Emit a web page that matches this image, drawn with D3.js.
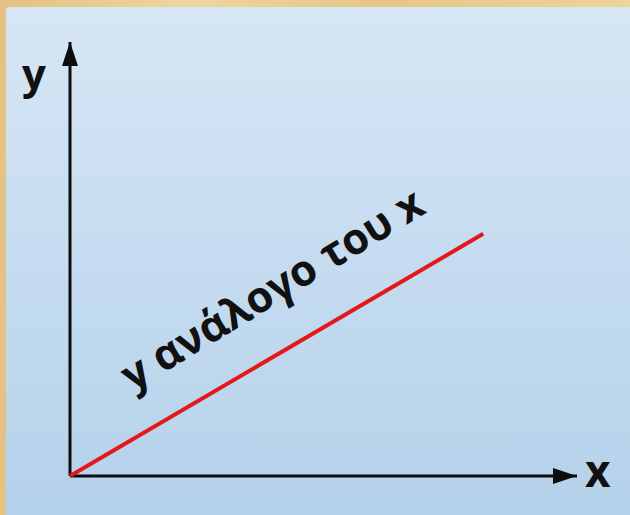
<!DOCTYPE html>
<html>
<head>
<meta charset="utf-8">
<title>y ανάλογο του x</title>
<script src="https://d3js.org/d3.v7.min.js"></script>
<style>
  html, body { margin: 0; padding: 0; background: #e6c88c; }
  svg { display: block; }
</style>
</head>
<body>
<svg id="chart" width="630" height="515"></svg>
<script>
// axis extents (data units) and the proportional line
var axisX = [0, 10];
var axisY = [0, 10];
var lineX = [0, 8.15];
var lineY = [0, 5.58];
var labelText = "y ανάλογο του x";

var svg = d3.select("#chart");

// parchment border
var defs = svg.append("defs");
var wood = defs.append("linearGradient").attr("id", "wood")
    .attr("x1", "0").attr("x2", "1").attr("y1", "0").attr("y2", "0");
wood.append("stop").attr("offset", "0%").attr("stop-color", "#e3c283");
wood.append("stop").attr("offset", "30%").attr("stop-color", "#efd59e");
wood.append("stop").attr("offset", "60%").attr("stop-color", "#e6c688");
wood.append("stop").attr("offset", "100%").attr("stop-color", "#eed39a");
svg.append("rect").attr("width", 630).attr("height", 515).attr("fill", "url(#wood)");

// blue panel
var sky = defs.append("linearGradient").attr("id", "sky")
    .attr("x1", "0").attr("x2", "0").attr("y1", "0").attr("y2", "1");
sky.append("stop").attr("offset", "0%").attr("stop-color", "#d7e6f5");
sky.append("stop").attr("offset", "100%").attr("stop-color", "#b3d1ea");
svg.append("rect").attr("x", 6).attr("y", 7).attr("width", 640).attr("height", 520)
    .attr("rx", 4).attr("fill", "url(#sky)");

var x = d3.scaleLinear().domain(axisX).range([70, 577]);
var y = d3.scaleLinear().domain(axisY).range([476, 42]);

// arrow heads
defs.append("marker").attr("id", "arrow")
    .attr("viewBox", "0 0 24 16").attr("refX", 24).attr("refY", 8)
    .attr("markerWidth", 24).attr("markerHeight", 16)
    .attr("markerUnits", "userSpaceOnUse").attr("orient", "auto")
  .append("path").attr("d", "M0,0 L24,8 L0,16 Z").attr("fill", "#0d0d0d");

// axes
svg.append("line")
    .attr("x1", x(0)).attr("y1", y(0)).attr("x2", x(axisX[1])).attr("y2", y(0))
    .attr("stroke", "#0d0d0d").attr("stroke-width", 3).attr("marker-end", "url(#arrow)");
svg.append("line")
    .attr("x1", x(0)).attr("y1", y(0)).attr("x2", x(0)).attr("y2", y(axisY[1]))
    .attr("stroke", "#0d0d0d").attr("stroke-width", 3).attr("marker-end", "url(#arrow)");

// red proportional line
var pts = lineX.map(function(d, i) { return [d, lineY[i]]; });
svg.append("path")
    .datum(pts)
    .attr("d", d3.line().x(function(d) { return x(d[0]); }).y(function(d) { return y(d[1]); }))
    .attr("stroke", "#e4171b").attr("stroke-width", 4).attr("fill", "none");

// axis labels
svg.append("text").attr("x", 22).attr("y", 89)
    .attr("font-family", "Open Sans").attr("font-weight", "bold").attr("font-size", 42)
    .attr("fill", "#111").text("y");
svg.append("text").attr("x", 585).attr("y", 487)
    .attr("font-family", "Open Sans").attr("font-weight", "bold").attr("font-size", 44)
    .attr("fill", "#111").text("x");

// rotated label along the line
var ang = -Math.atan2(y(0) - y(lineY[1]), x(lineX[1]) - x(0)) * 180 / Math.PI - 1;
svg.append("text")
    .attr("transform", "translate(280,302) rotate(" + ang + ")")
    .attr("text-anchor", "middle")
    .attr("font-family", "Open Sans").attr("font-weight", "bold").attr("font-size", 43)
    .attr("fill", "#111").text(labelText);
</script>
</body>
</html>
